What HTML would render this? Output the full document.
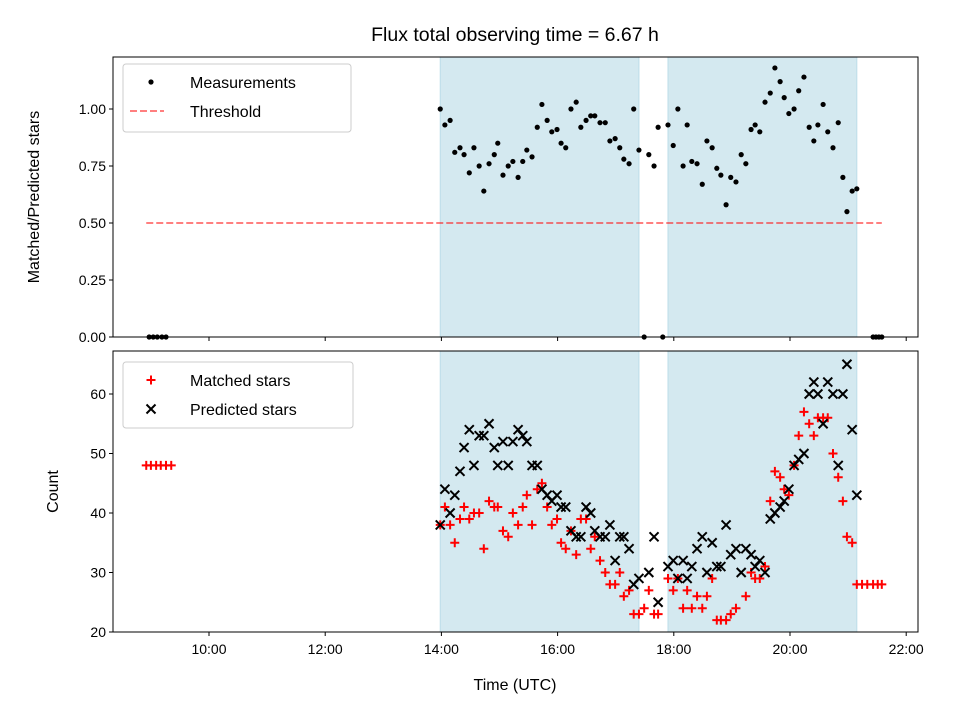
<!DOCTYPE html>
<html><head><meta charset="utf-8"><style>
body{margin:0;background:#fff;}
svg{display:block;font-family:"Liberation Sans","DejaVu Sans",sans-serif;}
</style></head><body>
<svg id="chart" width="960" height="720" viewBox="0 0 960 720" xmlns="http://www.w3.org/2000/svg"></svg>
<script>
const ratioTimes=[13.98,14.06,14.15,14.23,14.32,14.39,14.48,14.56,14.65,14.73,14.82,14.91,14.97,15.06,15.15,15.23,15.32,15.40,15.47,15.56,15.65,15.73,15.82,15.90,15.99,16.06,16.14,16.23,16.32,16.40,16.49,16.57,16.64,16.73,16.82,16.90,16.99,17.07,17.14,17.23,17.31,17.40,17.49,17.57,17.66,17.73,17.81,17.90,17.99,18.07,18.16,18.23,18.31,18.40,18.49,18.57,18.66,18.74,18.81,18.90,18.98,19.07,19.16,19.24,19.33,19.40,19.48,19.57,19.66,19.74,19.83,19.90,19.98,20.07,20.15,20.24,20.33,20.41,20.48,20.57,20.65,20.74,20.83,20.91,20.98,21.07,21.15,8.97,9.04,9.11,9.19,9.26,21.43,21.48,21.53,21.58];
const ratioValues=[1.00,0.93,0.95,0.81,0.83,0.80,0.72,0.83,0.75,0.64,0.76,0.80,0.85,0.71,0.75,0.77,0.70,0.77,0.82,0.79,0.92,1.02,0.95,0.90,0.91,0.85,0.83,1.00,1.03,0.92,0.95,0.97,0.97,0.94,0.94,0.86,0.87,0.83,0.78,0.76,1.00,0.82,0,0.80,0.75,0.92,0,0.93,0.84,1.00,0.75,0.93,0.77,0.76,0.67,0.86,0.83,0.74,0.71,0.58,0.70,0.68,0.80,0.76,0.91,0.93,0.90,1.03,1.07,1.18,1.12,1.05,0.98,1.00,1.08,1.14,0.92,0.86,0.93,1.02,0.90,0.83,0.94,0.70,0.55,0.64,0.65,0,0,0,0,0,0,0,0,0];
const threshold=[0.5];
const thresholdRange=[8.92,21.58];
const predTimes=[13.98,14.06,14.15,14.23,14.32,14.39,14.48,14.56,14.65,14.73,14.82,14.91,14.97,15.06,15.15,15.23,15.32,15.40,15.47,15.56,15.65,15.73,15.82,15.90,15.99,16.06,16.14,16.23,16.32,16.40,16.49,16.57,16.64,16.73,16.82,16.90,16.99,17.07,17.14,17.23,17.31,17.40,17.57,17.66,17.73,17.90,17.99,18.07,18.16,18.23,18.31,18.40,18.49,18.57,18.66,18.74,18.81,18.90,18.98,19.07,19.16,19.24,19.33,19.40,19.48,19.57,19.66,19.74,19.83,19.90,19.98,20.07,20.15,20.24,20.33,20.41,20.48,20.57,20.65,20.74,20.83,20.91,20.98,21.07,21.15];
const predValues=[38,44,40,43,47,51,54,48,53,53,55,51,48,52,48,52,54,53,52,48,48,44,43,42,43,41,41,37,36,36,41,40,37,36,36,38,32,36,36,34,28,29,30,36,25,31,32,29,32,29,31,34,36,30,35,31,31,38,33,34,30,34,33,31,32,30,39,40,41,42,44,48,49,50,60,62,60,55,62,60,48,60,65,54,43];
const matchTimes=[8.92,9.00,9.09,9.17,9.26,9.35,13.98,14.06,14.15,14.23,14.32,14.39,14.48,14.56,14.65,14.73,14.82,14.91,14.97,15.06,15.15,15.23,15.32,15.40,15.47,15.56,15.65,15.73,15.82,15.90,15.99,16.06,16.14,16.23,16.32,16.40,16.49,16.57,16.64,16.73,16.82,16.90,16.99,17.07,17.14,17.23,17.31,17.40,17.49,17.57,17.66,17.73,17.90,17.99,18.07,18.16,18.23,18.31,18.40,18.49,18.57,18.66,18.74,18.81,18.90,18.98,19.07,19.24,19.33,19.40,19.48,19.57,19.66,19.74,19.83,19.90,19.98,20.07,20.15,20.24,20.33,20.41,20.48,20.57,20.65,20.74,20.83,20.91,20.98,21.07,21.15,21.24,21.33,21.43,21.51,21.58];
const matchValues=[48,48,48,48,48,48,38,41,38,35,39,41,39,40,40,34,42,41,41,37,36,40,38,41,43,38,44,45,41,38,39,35,34,37,33,39,39,34,36,32,30,28,28,30,26,27,23,23,24,27,23,23,29,27,29,24,27,24,26,24,26,29,22,22,22,23,24,26,30,29,29,31,42,47,46,44,43,48,53,57,55,53,56,56,56,50,46,42,36,35,28,28,28,28,28,28];
const spans=[[13.98,17.40],[17.90,21.15]];
const xTicks=[10,12,14,16,18,20,22];
const xTickLabels=["10:00","12:00","14:00","16:00","18:00","20:00","22:00"];
const topYTicks=[0,0.25,0.5,0.75,1.0];
const topYTickLabels=["0.00","0.25","0.50","0.75","1.00"];
const botYTicks=[20,30,40,50,60];
const botYTickLabels=["20","30","40","50","60"];

const NS="http://www.w3.org/2000/svg";
const svg=document.getElementById('chart');
const L=113,R=918,T1=57,B1=337,T2=351,B2=632;
const xS=t=>209+(t-10)*58.1;
const y1=v=>337-v*228;
const y2=v=>632-(v-20)*5.95;
function el(tag,attrs,parent){const e=document.createElementNS(NS,tag);for(const k in attrs)e.setAttribute(k,attrs[k]);(parent||svg).appendChild(e);return e;}
function txt(s,attrs,parent){const e=el('text',attrs,parent);e.textContent=s;return e;}

const title=txt('Flux total observing time = 6.67 h',{x:515,y:41,'text-anchor':'middle','font-size':'19.5'});



function panel(T,B,yS,yTicks,yLabels,name,showX){
  const g=el('g',{});
  
  
  spans.forEach((s,i)=>{
    const r=el('rect',{x:xS(s[0]),y:T,width:xS(s[1])-xS(s[0]),height:B-T,fill:'#d4e9f0',stroke:'#bcdde9','stroke-width':1},g);
    
    
  });
  yTicks.forEach((v,i)=>{
    const y=yS(v);
    el('line',{x1:L-4,x2:L,y1:y,y2:y,stroke:'#000','stroke-width':1},g);
    const t=txt(yLabels[i],{x:L-7,y:y+5,'text-anchor':'end','font-size':'14'},g);
    
    
  });
  xTicks.forEach((v,i)=>{
    const x=xS(v);
    el('line',{x1:x,x2:x,y1:B,y2:B+4,stroke:'#000','stroke-width':1},g);
    if(showX){
      const t=txt(xTickLabels[i],{x:x,y:B+22,'text-anchor':'middle','font-size':'14'},g);
      
      
    }
  });
  return g;
}
const g1=panel(T1,B1,y1,topYTicks,topYTickLabels,'ratio-panel',false);
const g2=panel(T2,B2,y2,botYTicks,botYTickLabels,'count-panel',true);

const th=el('line',{x1:xS(thresholdRange[0]),x2:xS(thresholdRange[1]),y1:y1(threshold[0]),y2:y1(threshold[0]),stroke:'#ff0000','stroke-opacity':0.5,'stroke-width':2,'stroke-dasharray':'7,3'},g1);



ratioTimes.forEach((t,i)=>{
  const c=el('circle',{cx:xS(t),cy:y1(ratioValues[i]),r:2.6,fill:'#000'},g1);
  
  
});

function plus(x,y,parent){return el('path',{d:`M${x-4.5},${y}H${x+4.5}M${x},${y-4.5}V${y+4.5}`,stroke:'#ff0000','stroke-width':2,fill:'none'},parent);}
function cross(x,y,parent){return el('path',{d:`M${x-4.5},${y-4.5}L${x+4.5},${y+4.5}M${x-4.5},${y+4.5}L${x+4.5},${y-4.5}`,stroke:'#000','stroke-width':2,fill:'none'},parent);}
matchTimes.forEach((t,i)=>{
  const p=plus(xS(t),y2(matchValues[i]),g2);
  
  
});
predTimes.forEach((t,i)=>{
  const p=cross(xS(t),y2(predValues[i]),g2);
  
  
});

[[T1,B1],[T2,B2]].forEach(([T,B],i)=>{
  const r=el('rect',{x:L,y:T,width:R-L,height:B-T,fill:'none',stroke:'#000','stroke-width':1});
  
  
});

const yl1=txt('Matched/Predicted stars',{x:0,y:0,'text-anchor':'middle','font-size':'16',transform:`translate(39,${(T1+B1)/2}) rotate(-90)`});


const yl2=txt('Count',{x:0,y:0,'text-anchor':'middle','font-size':'16',transform:`translate(58,${(T2+B2)/2}) rotate(-90)`});


const xl=txt('Time (UTC)',{x:515,y:690,'text-anchor':'middle','font-size':'16'});



function legend(x,y,w,h,items,name){
  const g=el('g',{});
  
  
  el('rect',{x:x,y:y,width:w,height:h,rx:3,fill:'#fff','fill-opacity':0.85,stroke:'#ccc'},g);
  items.forEach((it,i)=>{
    const cy=y+18+i*29;
    const mx=x+28;
    let m;
    if(it.type==='dot') m=el('circle',{cx:mx,cy:cy,r:2.6,fill:'#000'},g);
    else if(it.type==='dash') m=el('line',{x1:mx-21,x2:mx+13,y1:cy,y2:cy,stroke:'#ff0000','stroke-opacity':0.5,'stroke-width':2,'stroke-dasharray':'7,3'},g);
    else if(it.type==='plus') m=plus(mx,cy,g);
    else m=cross(mx,cy,g);
    
    
    const t=txt(it.label,{x:x+67,y:cy+6,'font-size':'16'},g);
    
    
  });
}
legend(123,64,228,68,[{type:'dot',label:'Measurements'},{type:'dash',label:'Threshold'}],'ratio-legend');
legend(123,362,230,66,[{type:'plus',label:'Matched stars'},{type:'cross',label:'Predicted stars'}],'count-legend');
</script>
</body></html>
